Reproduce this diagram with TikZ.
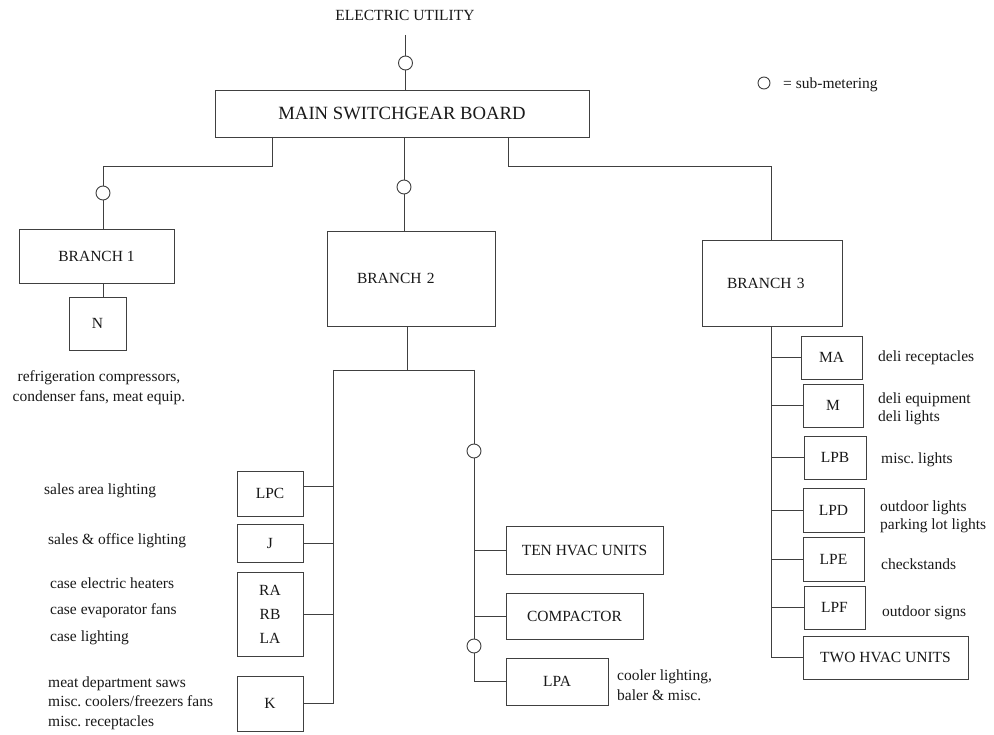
\documentclass[tikz,border=0pt]{standalone}
\usepackage{fontspec}
\setmainfont{Liberation Serif}
\begin{document}
\frenchspacing
\begin{tikzpicture}[x=1pt,y=-1pt,
  every node/.style={text=black!90, font=\fontsize{15.5}{18}\selectfont},
  box/.style={draw=black!75, line width=0.9pt, inner sep=0pt, align=center},
  meter/.style={draw=black!75, line width=0.9pt, circle, minimum size=14pt, inner sep=0pt, fill=white},
  wire/.style={draw=black!75, line width=0.9pt},
  note/.style={anchor=west, align=left, inner sep=0pt}]
\useasboundingbox (0,0) rectangle (994,735);
\fill[white] (0,0) rectangle (994,735);

% top
\node (eu) at (405,15) {ELECTRIC UTILITY};
\node[box, minimum width=374pt, minimum height=47pt, font=\fontsize{18.7}{22}\selectfont] (main) at (402,113.5) {MAIN SWITCHGEAR BOARD};
\node[meter] (m0) at (405.5,63) {};
\coordinate (eu0) at (405.5,35);

% legend
\node[meter, minimum size=12pt] (leg) at (764,83) {};
\node[note] (legt) at (783,85) {= sub-metering};

% branch 1
\node[box, minimum width=155pt, minimum height=54pt] (b1) at (96.5,256) {BRANCH 1};
\node[box, minimum width=57pt, minimum height=53pt] (N) at (97.5,323.5) {N};
\node[meter] (m1) at (103,193) {};
\node[align=center, font=\fontsize{15.5}{20}\selectfont] (tN) at (99,388) {refrigeration compressors,\\condenser fans, meat equip.};

% branch 2
\node[box, minimum width=168pt, minimum height=95pt, text width=108pt, align=left] (b2) at (411,278.5) {BRANCH 2};
\node[meter] (m2) at (404,187) {};

\node[box, minimum width=66pt, minimum height=45pt] (LPC) at (270,493.5) {LPC};
\node[box, minimum width=66pt, minimum height=38pt] (J) at (270,543) {J};
\node[box, minimum width=66pt, minimum height=84pt, font=\fontsize{15.5}{24}\selectfont] (R) at (270,614) {RA\\RB\\LA};
\node[box, minimum width=66pt, minimum height=55pt] (K) at (270,703.5) {K};

\node[note] (tLPC) at (44,491) {sales area lighting};
\node[note] (tJ) at (48,541) {sales \& office lighting};
\node[note, font=\fontsize{15.5}{26.5}\selectfont] (tR) at (50,611) {case electric heaters\\case evaporator fans\\case lighting};
\node[note, font=\fontsize{15.5}{19.5}\selectfont] (tK) at (48,703) {meat department saws\\misc. coolers/freezers fans\\misc. receptacles};

\node[box, minimum width=157pt, minimum height=48pt] (TEN) at (584.5,550) {TEN HVAC UNITS};
\node[box, minimum width=137pt, minimum height=46pt] (COMP) at (574.5,616) {COMPACTOR};
\node[box, minimum width=102pt, minimum height=47pt] (LPA) at (557,681.5) {LPA};
\node[meter] (m3) at (474,451) {};
\node[meter] (m4) at (474,646) {};
\node[note, font=\fontsize{15.5}{20}\selectfont] (tLPA) at (617,685) {cooler lighting,\\baler \& misc.};

% branch 3
\node[box, minimum width=140pt, minimum height=86pt, text width=90pt, align=left] (b3) at (772,283) {BRANCH 3};
\node[box, minimum width=61pt, minimum height=43pt] (MA) at (831.5,357.5) {MA};
\node[box, minimum width=60pt, minimum height=43pt] (M) at (833,405.5) {M};
\node[box, minimum width=62pt, minimum height=43pt] (LPB) at (835,457.5) {LPB};
\node[box, minimum width=61pt, minimum height=44pt] (LPD) at (833.5,510) {LPD};
\node[box, minimum width=61pt, minimum height=44pt] (LPE) at (833.5,559) {LPE};
\node[box, minimum width=61pt, minimum height=43pt] (LPF) at (834.5,607.5) {LPF};
\node[box, minimum width=165pt, minimum height=43pt] (TWO) at (885.5,657.5) {TWO HVAC UNITS};

\node[note] (tMA) at (878,358) {deli receptacles};
\node[note] (tM) at (878,409) {deli equipment\\deli lights};
\node[note] (tLPB) at (881,460) {misc. lights};
\node[note] (tLPD) at (880,517) {outdoor lights\\parking lot lights};
\node[note] (tLPE) at (881,564) {checkstands};
\node[note] (tLPF) at (882,613) {outdoor signs};

% wires
\draw[wire] (eu0) -- (m0) -- (m0 |- main.north);

\coordinate (j1) at (272,137);
\coordinate (k1) at (103,166);
\draw[wire] (j1) |- (k1) -- (m1) -- (m1 |- b1.north);
\draw[wire] (m1 |- b1.south) -- (m1 |- N.north);

\draw[wire] (m2 |- main.south) -- (m2) -- (m2 |- b2.north);

\coordinate (j3) at (508,137);
\coordinate (k3) at (771,166);
\draw[wire] (j3) |- (k3) -- (k3 |- b3.north);

\coordinate (s2) at (407,370);
\coordinate (busL) at (333,370);
\coordinate (busR) at (474,370);
\draw[wire] (s2 |- b2.south) -- (s2);
\draw[wire] (busL) -- (busR);
\draw[wire] (busL) |- (K.east);
\draw[wire] ([yshift=7.5pt]LPC.east) -- ([yshift=7.5pt]LPC.east -| busL);
\draw[wire] (J.east) -- (J.east -| busL);
\draw[wire] (R.east) -- (R.east -| busL);

\draw[wire] (busR) -- (m3) -- (m4) |- (LPA.west);
\draw[wire] (TEN.west -| busR) -- (TEN.west);
\draw[wire] (COMP.west -| busR) -- (COMP.west);

\draw[wire] (k3 |- b3.south) |- (TWO.west);
\foreach \n in {MA,M,LPB,LPD,LPE,LPF}{
  \draw[wire] (\n.west -| k3) -- (\n.west);
}
\end{tikzpicture}
\end{document}
